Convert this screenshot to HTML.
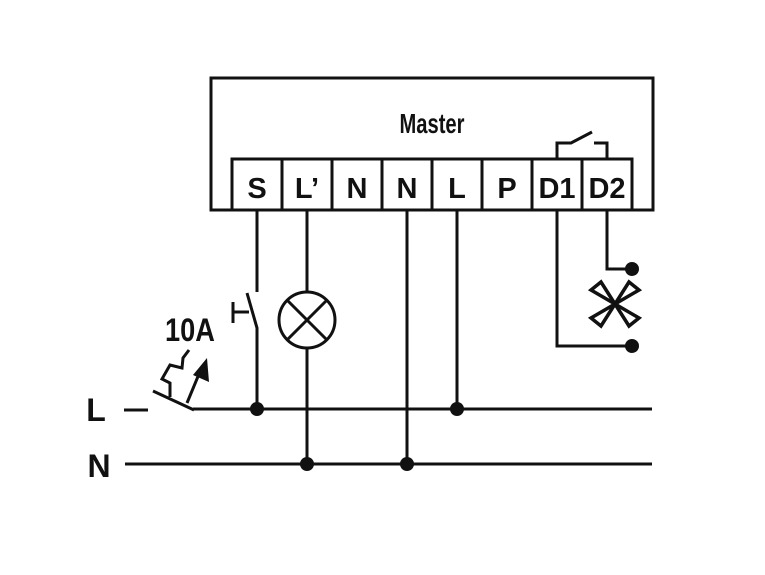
<!DOCTYPE html>
<html><head><style>
html,body{margin:0;padding:0;background:#fff;}
svg{display:block}
text{font-family:"Liberation Sans",sans-serif;font-weight:bold;fill:#111}
</style></head><body>
<svg width="765" height="575" viewBox="0 0 765 575" xmlns="http://www.w3.org/2000/svg">
<g stroke="#111" stroke-width="3" fill="none">
<rect x="211" y="78" width="442" height="132"/>
<rect x="232" y="159" width="400" height="51"/>
<line x1="282" y1="159" x2="282" y2="210"/>
<line x1="332" y1="159" x2="332" y2="210"/>
<line x1="382" y1="159" x2="382" y2="210"/>
<line x1="432" y1="159" x2="432" y2="210"/>
<line x1="482" y1="159" x2="482" y2="210"/>
<line x1="532" y1="159" x2="532" y2="210"/>
<line x1="582" y1="159" x2="582" y2="210"/>
<polyline points="557,159 557,143 571,143 592,132"/>
<polyline points="607,159 607,143 594,143"/>
<line x1="257" y1="210" x2="257" y2="292"/>
<polyline points="247,293 257,328 257,409"/>
<line x1="233" y1="302" x2="233" y2="323"/>
<line x1="233" y1="312" x2="249" y2="312"/>
<line x1="307" y1="210" x2="307" y2="292"/>
<line x1="307" y1="348" x2="307" y2="464"/>
<circle cx="307" cy="320" r="28"/>
<line x1="287" y1="300" x2="327" y2="340"/>
<line x1="327" y1="300" x2="287" y2="340"/>
<line x1="407" y1="210" x2="407" y2="464"/>
<line x1="457" y1="210" x2="457" y2="409"/>
<polyline points="557,210 557,346 632,346"/>
<polyline points="607,210 607,269 632,269"/>
<line x1="193" y1="409" x2="652" y2="409"/>
<line x1="125" y1="464" x2="652" y2="464"/>
<line x1="124" y1="410" x2="148" y2="410"/>
<line x1="153" y1="391" x2="194" y2="410"/>
<polyline points="170,397 170,383 162,379 170,365 182,368 183,358 189,350"/>
<line x1="187" y1="403" x2="199" y2="374"/>
<polygon points="615,304 591,290 601,282" stroke-width="3.5"/>
<polygon points="615,304 639,290 629,282" stroke-width="3.5"/>
<polygon points="615,304 591,318 601,326" stroke-width="3.5"/>
<polygon points="615,304 639,318 629,326" stroke-width="3.5"/>
</g>
<polygon points="207,358 193,375 209,382" fill="#111"/>
<g fill="#111">
<circle cx="257" cy="409" r="7"/>
<circle cx="457" cy="409" r="7"/>
<circle cx="307" cy="464" r="7"/>
<circle cx="407" cy="464" r="7"/>
<circle cx="632" cy="269" r="7"/>
<circle cx="632" cy="346" r="7"/>
</g>
<text x="432" y="133" font-size="28" text-anchor="middle" transform="translate(432 0) scale(0.72 1) translate(-432 0)">Master</text>
<g font-size="29" text-anchor="middle">
<text x="257" y="198">S</text>
<text x="307" y="198">L’</text>
<text x="357" y="198">N</text>
<text x="407" y="198">N</text>
<text x="457" y="198">L</text>
<text x="507" y="198">P</text>
<text x="557" y="198">D1</text>
<text x="607" y="198">D2</text>
</g>
<text x="190" y="341" font-size="32" text-anchor="middle" transform="translate(190 0) scale(0.85 1) translate(-190 0)">10A</text>
<text x="96" y="421" font-size="32" text-anchor="middle">L</text>
<text x="99" y="477" font-size="32" text-anchor="middle">N</text>
</svg>
</body></html>
